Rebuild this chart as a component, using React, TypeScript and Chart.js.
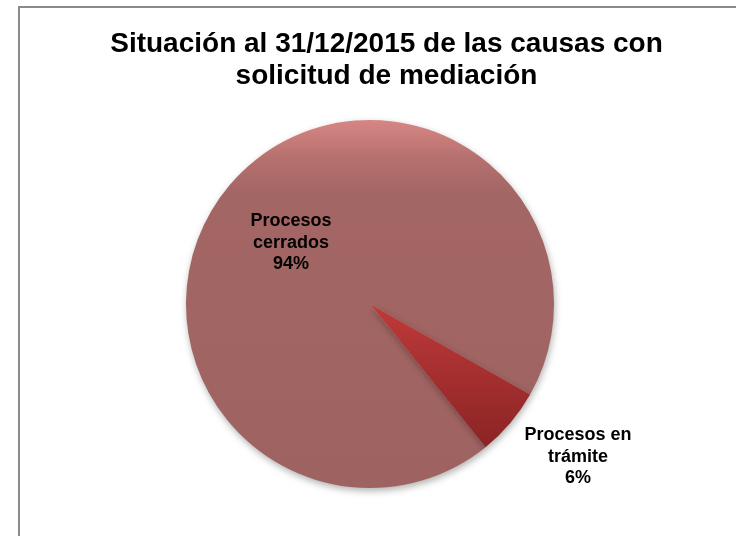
import React, { useEffect, useRef } from "react";
import { Chart, registerables } from "chart.js";

Chart.register(...registerables);

// ---- data ----
const categories = ["Procesos cerrados", "Procesos en trámite"];
const sliceLabelLines = [
  ["Procesos", "cerrados"],
  ["Procesos en", "trámite"],
];
const values = [94, 6];
const titleLines = ["Situación al 31/12/2015 de las causas con", "solicitud de mediación"];

// ---- styling ----
const FONT = "'Liberation Sans', Arial, Helvetica, sans-serif";
const PIE_RADIUS = 184;
const START_ROTATION = 141.1; // degrees, clockwise from top
// label placement relative to each slice (factor of radius, angular shift in degrees)
const labelPlacement = [
  { factor: 0.542, shift: -2.6 },
  { factor: 1.403, shift: -4 },
];
const LABEL_LINE_HEIGHT = 21.5;

function pieGradient(chart: any, stops: [number, string][]) {
  const area = chart.chartArea;
  if (!area) return stops[stops.length - 1][1];
  const cy = (area.top + area.bottom) / 2;
  const g = chart.ctx.createLinearGradient(0, cy - PIE_RADIUS, 0, cy + PIE_RADIUS);
  stops.forEach(([o, c]) => g.addColorStop(o, c));
  return g;
}

const closedStops: [number, string][] = [
  [0, "rgb(214,134,132)"],
  [0.05, "rgb(200,124,122)"],
  [0.1, "rgb(182,113,111)"],
  [0.2, "rgb(163,102,100)"],
  [1, "rgb(158,99,97)"],
];
const openStops: [number, string][] = [
  [0, "rgb(210,70,70)"],
  [0.5, "rgb(192,58,58)"],
  [0.89, "rgb(138,36,36)"],
  [1, "rgb(130,33,33)"],
];

const shadowPlugin = {
  id: "pieShadow",
  beforeDatasetDraw(chart: any) {
    const c = chart.ctx;
    c.save();
    c.shadowColor = "rgba(0,0,0,0.3)";
    c.shadowBlur = 7;
    c.shadowOffsetX = 1;
    c.shadowOffsetY = 3;
  },
  afterDatasetDraw(chart: any) {
    chart.ctx.restore();
  },
};

const sliceLabelPlugin = {
  id: "sliceLabels",
  afterDatasetsDraw(chart: any) {
    const ctx = chart.ctx;
    const meta = chart.getDatasetMeta(0);
    const data = chart.data.datasets[0].data as number[];
    const total = data.reduce((a, b) => a + b, 0);
    meta.data.forEach((arc: any, i: number) => {
      const p = arc.getProps(["x", "y", "startAngle", "endAngle", "outerRadius"], true);
      const place = labelPlacement[i];
      const mid = (p.startAngle + p.endAngle) / 2 + (place.shift * Math.PI) / 180;
      const r = p.outerRadius * place.factor;
      const cx = p.x + Math.cos(mid) * r;
      const cy = p.y + Math.sin(mid) * r;
      const pct = Math.round((data[i] / total) * 100) + "%";
      const lines = [...sliceLabelLines[i], pct];
      ctx.save();
      ctx.font = `bold 18px ${FONT}`;
      ctx.fillStyle = "#000";
      ctx.textAlign = "center";
      ctx.textBaseline = "middle";
      lines.forEach((t, k) => {
        ctx.fillText(t, cx, cy + (k - (lines.length - 1) / 2) * LABEL_LINE_HEIGHT);
      });
      ctx.restore();
    });
  },
};

export default function App() {
  const canvasRef = useRef<HTMLCanvasElement | null>(null);

  useEffect(() => {
    if (!canvasRef.current) return;
    const chart = new Chart(canvasRef.current, {
      type: "pie",
      data: {
        labels: categories,
        datasets: [
          {
            data: values,
            backgroundColor: (c: any) =>
              c.dataIndex === 0 ? pieGradient(c.chart, closedStops) : pieGradient(c.chart, openStops),
            borderWidth: 0,
            radius: PIE_RADIUS,
          } as any,
        ],
      },
      options: {
        responsive: false,
        animation: false,
        rotation: START_ROTATION,
        layout: { padding: { left: 37, right: 0, top: 0, bottom: 30 } },
        events: [],
        plugins: {
          title: {
            display: true,
            text: titleLines,
            color: "#000",
            font: { family: FONT, size: 28, weight: "bold", lineHeight: 32 / 28 },
            padding: { top: 28, bottom: 10 },
          },
          legend: {
            display: true,
            position: "right",
            labels: { filter: () => false, padding: 23 },
          },
          tooltip: { enabled: false },
        },
      },
      plugins: [shadowPlugin, sliceLabelPlugin],
    });
    return () => chart.destroy();
  }, []);

  return (
    <div
      style={{
        position: "absolute",
        left: 0,
        top: 0,
        width: 736,
        height: 536,
        overflow: "hidden",
        background: "#fff",
      }}
    >
      <div
        style={{
          position: "absolute",
          left: 18,
          top: 6,
          right: -40,
          bottom: -40,
          borderLeft: "2px solid #8a8a8a",
          borderTop: "2px solid #8a8a8a",
        }}
      />
      <canvas
        ref={canvasRef}
        width={736}
        height={536}
        style={{ position: "absolute", left: 0, top: 0, display: "block" }}
      />
    </div>
  );
}
